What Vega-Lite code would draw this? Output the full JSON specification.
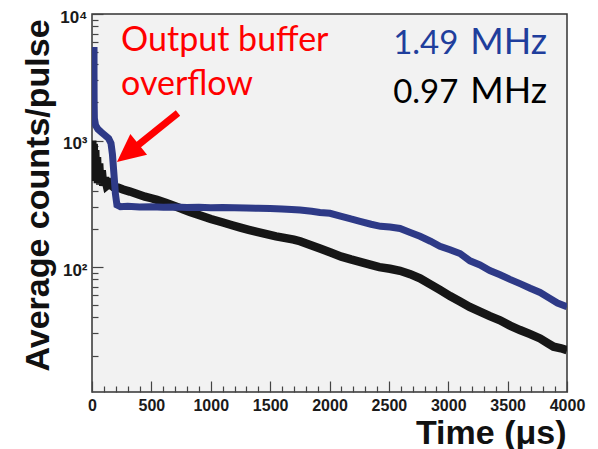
{
  "$schema": "https://vega.github.io/schema/vega-lite/v6.json",
  "width": 475,
  "height": 378,
  "autosize": {"type": "none"},
  "padding": {"left": 92, "top": 14, "right": 31, "bottom": 57},
  "background": "white",
  "config": {
    "view": {"fill": "#f2f2f2", "stroke": "#333333", "strokeWidth": 1.5},
    "axis": {"grid": false, "domain": false, "tickColor": "#444444", "tickWidth": 1.2, "labelFont": "Liberation Sans", "labelFontWeight": "bold", "labelColor": "#1a1a1a", "titleFont": "Liberation Sans", "titleFontWeight": "bold", "titleColor": "#111111"}
  },
  "datasets": {
    "black": [
      {"t": 2, "v": 1000}, {"t": 8, "v": 620}, {"t": 14, "v": 940}, {"t": 20, "v": 540}, {"t": 27, "v": 840}, {"t": 34, "v": 480}, {"t": 42, "v": 740}, {"t": 50, "v": 460}, {"t": 60, "v": 660}, {"t": 70, "v": 450}, {"t": 82, "v": 580}, {"t": 95, "v": 440}, {"t": 110, "v": 510}, {"t": 125, "v": 440}, {"t": 150, "v": 460}, {"t": 180, "v": 430}, {"t": 220, "v": 425}, {"t": 261, "v": 410}, {"t": 320, "v": 395}, {"t": 380, "v": 378}, {"t": 446, "v": 360}, {"t": 500, "v": 350}, {"t": 547, "v": 340}, {"t": 620, "v": 322}, {"t": 700, "v": 302}, {"t": 760, "v": 288}, {"t": 825, "v": 272}, {"t": 900, "v": 258}, {"t": 1000, "v": 240}, {"t": 1103, "v": 225}, {"t": 1180, "v": 214}, {"t": 1250, "v": 205}, {"t": 1320, "v": 197}, {"t": 1389, "v": 190}, {"t": 1470, "v": 182}, {"t": 1550, "v": 175}, {"t": 1620, "v": 170}, {"t": 1700, "v": 165}, {"t": 1752, "v": 160}, {"t": 1850, "v": 148}, {"t": 1920, "v": 140}, {"t": 2004, "v": 131}, {"t": 2100, "v": 121}, {"t": 2180, "v": 115}, {"t": 2257, "v": 110}, {"t": 2350, "v": 104}, {"t": 2420, "v": 100}, {"t": 2509, "v": 97}, {"t": 2594, "v": 93.5}, {"t": 2680, "v": 88}, {"t": 2762, "v": 81.5}, {"t": 2850, "v": 73}, {"t": 2930, "v": 66}, {"t": 3015, "v": 59}, {"t": 3099, "v": 53.5}, {"t": 3180, "v": 48.5}, {"t": 3267, "v": 44.5}, {"t": 3350, "v": 41}, {"t": 3436, "v": 38}, {"t": 3520, "v": 34.5}, {"t": 3604, "v": 31.8}, {"t": 3690, "v": 29.5}, {"t": 3773, "v": 27.3}, {"t": 3840, "v": 25}, {"t": 3887, "v": 23.5}, {"t": 3950, "v": 22.8}, {"t": 4000, "v": 22}
    ],
    "blue": [
      {"t": 17, "v": 5480}, {"t": 17, "v": 3500}, {"t": 18, "v": 2000}, {"t": 20, "v": 1500}, {"t": 30, "v": 1320}, {"t": 50, "v": 1230}, {"t": 80, "v": 1160}, {"t": 110, "v": 1100}, {"t": 140, "v": 1040}, {"t": 160, "v": 950}, {"t": 172, "v": 780}, {"t": 185, "v": 540}, {"t": 197, "v": 380}, {"t": 210, "v": 310}, {"t": 240, "v": 300}, {"t": 300, "v": 302}, {"t": 400, "v": 298}, {"t": 500, "v": 300}, {"t": 600, "v": 297}, {"t": 700, "v": 298}, {"t": 800, "v": 296}, {"t": 900, "v": 297}, {"t": 1000, "v": 295}, {"t": 1100, "v": 296}, {"t": 1200, "v": 294}, {"t": 1300, "v": 293}, {"t": 1400, "v": 292}, {"t": 1500, "v": 290}, {"t": 1600, "v": 288}, {"t": 1680, "v": 285}, {"t": 1752, "v": 282}, {"t": 1850, "v": 276}, {"t": 1920, "v": 270}, {"t": 2004, "v": 266}, {"t": 2100, "v": 252}, {"t": 2180, "v": 240}, {"t": 2257, "v": 230}, {"t": 2350, "v": 218}, {"t": 2430, "v": 210}, {"t": 2509, "v": 207}, {"t": 2594, "v": 202}, {"t": 2680, "v": 188}, {"t": 2762, "v": 175}, {"t": 2850, "v": 160}, {"t": 2930, "v": 146}, {"t": 3015, "v": 137}, {"t": 3099, "v": 128}, {"t": 3183, "v": 112}, {"t": 3267, "v": 104}, {"t": 3350, "v": 94}, {"t": 3436, "v": 87}, {"t": 3520, "v": 80}, {"t": 3604, "v": 74}, {"t": 3690, "v": 68}, {"t": 3773, "v": 63}, {"t": 3850, "v": 57}, {"t": 3920, "v": 52}, {"t": 4000, "v": 48.5}
    ],
    "arrow": [{"t": 724, "v": 1648, "t2": 368, "v2": 889}],
    "arrowhead": [{"t": 210, "v": 676}],
    "redtext": [{"t": 245, "v": 5060, "label": "Output buffer"}, {"t": 245, "v": 2270, "label": "overflow"}],
    "bluenum": [{"t": 3085, "v": 4830, "label": "1.49"}],
    "blueunit": [{"t": 3832, "v": 4830, "label": "MHz"}],
    "blacknum": [{"t": 3085, "v": 1978, "label": "0.97"}],
    "blackunit": [{"t": 3832, "v": 1978, "label": "MHz"}]
  },
  "encoding": {
    "x": {
      "field": "t", "type": "quantitative",
      "scale": {"domain": [0, 4000], "nice": false, "zero": false},
      "axis": {
        "title": "Time (μs)", "titleFontSize": 34, "titleAlign": "right", "titleX": 474, "titleY": 51, "titleBaseline": "alphabetic",
        "values": [0,100,200,300,400,500,600,700,800,900,1000,1100,1200,1300,1400,1500,1600,1700,1800,1900,2000,2100,2200,2300,2400,2500,2600,2700,2800,2900,3000,3100,3200,3300,3400,3500,3600,3700,3800,3900,4000],
        "format": "d",
        "labelExpr": "datum.value % 500 === 0 ? datum.label : ''",
        "labelFontSize": 16,
        "labelPadding": 16,
        "labelFlush": false,
        "labelOverlap": false,
        "tickSize": {"condition": {"test": "datum.value % 500 === 0", "value": -11}, "value": -6}
      }
    },
    "y": {
      "field": "v", "type": "quantitative",
      "scale": {"type": "log", "domain": [10.3, 10000], "nice": false},
      "axis": {
        "title": "Average counts/pulse", "titleFontSize": 34, "titleX": -44, "titleY": 181, "titleBaseline": "alphabetic", "titleAngle": -90,
        "values": [20,30,40,50,60,70,80,90,100,200,300,400,500,600,700,800,900,1000,2000,3000,4000,5000,6000,7000,8000,9000,10000],
        "labelExpr": "datum.value === 10000 ? '10⁴' : datum.value === 1000 ? '10³' : datum.value === 100 ? '10²' : ''",
        "labelFontSize": 17,
        "labelPadding": 16,
        "labelOffset": 3,
        "labelFlush": false,
        "labelOverlap": false,
        "tickSize": {"condition": {"test": "datum.value === 100 || datum.value === 1000 || datum.value === 10000", "value": -11}, "value": -6}
      }
    }
  },
  "layer": [
    {"data": {"name": "black"}, "mark": {"type": "line", "color": "#161616", "strokeWidth": 8.5, "strokeJoin": "miter", "clip": true}},
    {"data": {"name": "blue"}, "mark": {"type": "line", "color": "#2e3a87", "strokeWidth": 7, "strokeJoin": "miter", "clip": true}},
    {"data": {"name": "arrow"}, "mark": {"type": "rule", "color": "#ff0000", "strokeWidth": 7}, "encoding": {"x2": {"field": "t2"}, "y2": {"field": "v2"}}},
    {"data": {"name": "arrowhead"}, "mark": {"type": "point", "shape": "M0,0L-0.95,2L0.95,2Z", "filled": true, "color": "#ff0000", "opacity": 1, "size": 784, "angle": 231}},
    {"data": {"name": "redtext"}, "mark": {"type": "text", "font": "Lato", "fontSize": 34, "color": "#ff0000", "align": "left", "baseline": "alphabetic"}, "encoding": {"text": {"field": "label"}}},
    {"data": {"name": "bluenum"}, "mark": {"type": "text", "font": "Lato", "fontSize": 33, "color": "#1f3e9c", "align": "right", "baseline": "alphabetic"}, "encoding": {"text": {"field": "label"}}},
    {"data": {"name": "blueunit"}, "mark": {"type": "text", "font": "Lato", "fontSize": 36, "color": "#1f3e9c", "align": "right", "baseline": "alphabetic"}, "encoding": {"text": {"field": "label"}}},
    {"data": {"name": "blacknum"}, "mark": {"type": "text", "font": "Lato", "fontSize": 33, "color": "#000000", "align": "right", "baseline": "alphabetic"}, "encoding": {"text": {"field": "label"}}},
    {"data": {"name": "blackunit"}, "mark": {"type": "text", "font": "Lato", "fontSize": 36, "color": "#000000", "align": "right", "baseline": "alphabetic"}, "encoding": {"text": {"field": "label"}}}
  ]
}
